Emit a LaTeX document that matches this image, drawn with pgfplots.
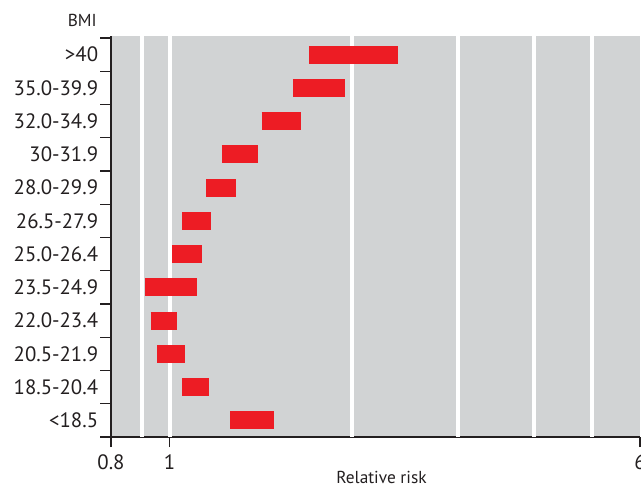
\documentclass[border=0pt]{standalone}
\usepackage{fontspec}
\setmainfont{PT Sans}
\usepackage{pgfplots}
\pgfplotsset{compat=1.18}

\definecolor{bggray}{HTML}{D1D3D4}
\definecolor{riskred}{HTML}{ED1C24}
\definecolor{txt}{HTML}{231F20}

\pgfplotsset{rr/.style={riskred, line width=13.5pt, mark=none}}

\begin{document}
\begin{tikzpicture}
\begin{axis}[
    scale only axis,
    width=396.75pt, height=300.75pt,
    xmode=log,
    xmin=0.8, xmax=6,
    ymin=0.5, ymax=12.56,
    axis x line*=bottom,
    axis y line*=left,
    axis line style={txt, line width=0.9pt},
    axis background/.style={fill=bggray},
    tick align=outside,
    major tick length=7.5pt,
    minor tick length=8.25pt,
    tick style={txt, line width=0.9pt},
    xtick={0.8,1,6},
    xticklabels={0.8,1,6},
    minor x tick num=0,
    extra x ticks={0.9,1,2,3,4,5},
    extra x tick labels={},
    extra x tick style={grid=major, major tick length=0pt},
    major grid style={white, line width=3pt},
    ytick={1,...,12},
    yticklabels={<18.5,18.5-20.4,20.5-21.9,22.0-23.4,23.5-24.9,25.0-26.4,
                 26.5-27.9,28.0-29.9,30-31.9,32.0-34.9,35.0-39.9,>40},
    major y tick style={draw=none},
    minor ytick={0.5,1.5,...,12.5},
    ticklabel style={font=\fontsize{15.6}{18}\selectfont, text=txt},
    yticklabel style={inner xsep=2pt},
    xticklabel style={yshift=-2pt},
    xlabel={Relative risk},
    ylabel={BMI},
    every axis x label/.style={at={(axis description cs:0.5,0)}, anchor=north,
        xshift=4.5pt, yshift=-25.5pt, inner sep=0pt,
        font=\fontsize{13}{15}\selectfont, text=txt},
    every axis y label/.style={at={(axis description cs:0,1)}, anchor=base east,
        xshift=-10.5pt, yshift=6.75pt, inner sep=0pt,
        font=\fontsize{13}{15}\selectfont, text=txt},
]
\addplot[rr] coordinates {(1.70,12) (2.39,12)};
\addplot[rr] coordinates {(1.60,11) (1.95,11)};
\addplot[rr] coordinates {(1.42,10) (1.65,10)};
\addplot[rr] coordinates {(1.22,9) (1.40,9)};
\addplot[rr] coordinates {(1.15,8) (1.29,8)};
\addplot[rr] coordinates {(1.05,7) (1.17,7)};
\addplot[rr] coordinates {(1.01,6) (1.13,6)};
\addplot[rr] coordinates {(0.91,5) (1.11,5)};
\addplot[rr] coordinates {(0.93,4) (1.03,4)};
\addplot[rr] coordinates {(0.955,3) (1.06,3)};
\addplot[rr] coordinates {(1.05,2) (1.16,2)};
\addplot[rr] coordinates {(1.26,1) (1.49,1)};
\end{axis}
\pgfresetboundingbox
\useasboundingbox (-83.25pt,-38.25pt) rectangle (397.5pt,327.75pt);
\end{tikzpicture}
\end{document}
